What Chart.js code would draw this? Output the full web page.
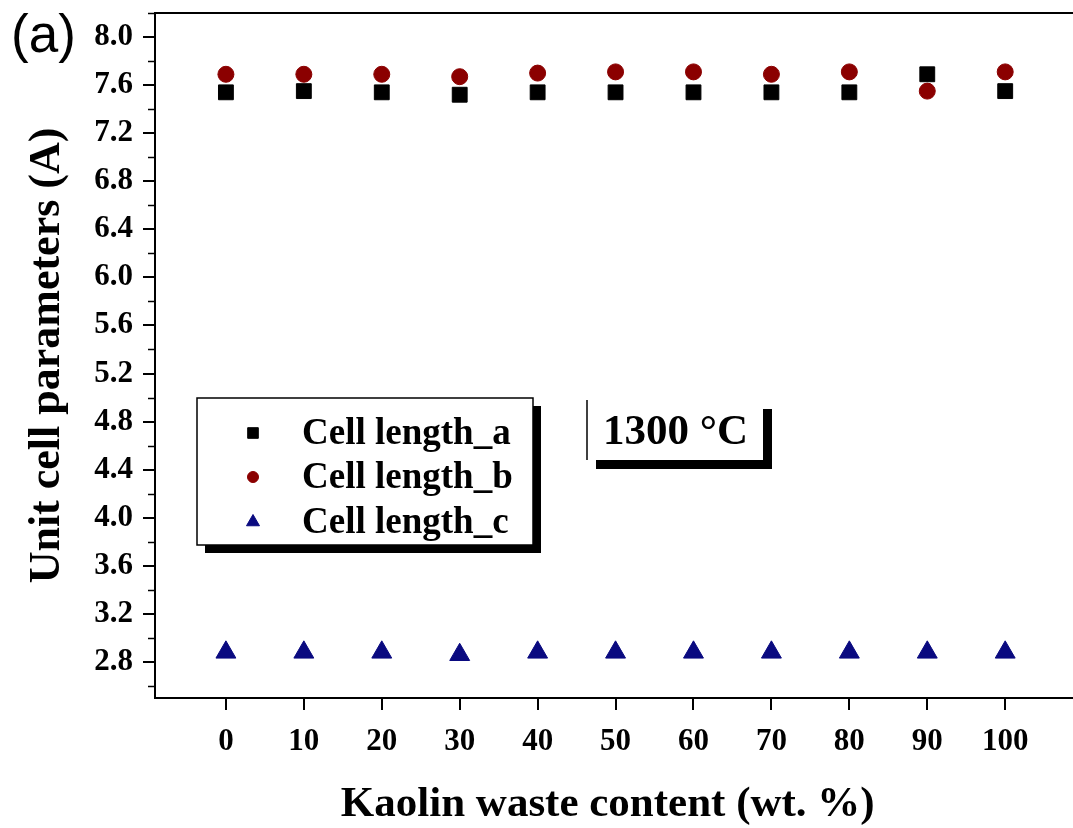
<!DOCTYPE html>
<html>
<head>
<meta charset="utf-8">
<script src="https://cdn.jsdelivr.net/npm/chart.js@4.4.1/dist/chart.umd.min.js"></script>
<style>
  html, body { margin: 0; padding: 0; background: #ffffff; overflow: hidden; }
  #wrap { width: 1073px; height: 828px; overflow: hidden; }
  #c { display: block; }
</style>
</head>
<body>
<div id="wrap"><canvas id="c" width="1073" height="828"></canvas></div>
<script>
// ---- data ----
const categories = [0, 10, 20, 30, 40, 50, 60, 70, 80, 90, 100];
const cellLengthA = [7.54, 7.55, 7.54, 7.52, 7.54, 7.54, 7.54, 7.54, 7.54, 7.69, 7.55];
const cellLengthB = [7.69, 7.69, 7.69, 7.67, 7.70, 7.71, 7.71, 7.69, 7.71, 7.55, 7.71];
const cellLengthC = [2.88, 2.88, 2.88, 2.86, 2.88, 2.88, 2.88, 2.88, 2.88, 2.88, 2.88];
const seriesLabels = ['Cell length_a', 'Cell length_b', 'Cell length_c'];
const xTickValues = [0, 10, 20, 30, 40, 50, 60, 70, 80, 90, 100];
const yMajorTicks = [2.8, 3.2, 3.6, 4.0, 4.4, 4.8, 5.2, 5.6, 6.0, 6.4, 6.8, 7.2, 7.6, 8.0];
const yMinorTicks = [2.6, 3.0, 3.4, 3.8, 4.2, 4.6, 5.0, 5.4, 5.8, 6.2, 6.6, 7.0, 7.4, 7.8, 8.2];
const xTitle = 'Kaolin waste content (wt. %)';
const yTitle = 'Unit cell parameters (A)';
const panelLabel = '(a)';
const tempLabel = '1300 \u00B0C';
const xRange = [-9.1, 108.7];
const yRange = [2.5, 8.2];

const SERIF = '"Liberation Serif", "Times New Roman", serif';
const SANS = '"Liberation Sans", Arial, sans-serif';

function toPoints(vals) { return categories.map((x, i) => ({ x: x, y: vals[i] })); }

const allYTicks = yMajorTicks.concat(yMinorTicks).sort((a, b) => a - b);

const decorPlugin = {
  id: 'decor',
  afterDraw(chart) {
    const ctx = chart.ctx;
    const area = chart.chartArea;
    const yScale = chart.scales.y;
    const W = chart.width;
    ctx.save();
    // top frame line and bottom axis continued to the edge of the figure
    ctx.strokeStyle = '#000';
    ctx.lineWidth = 2;
    ctx.beginPath();
    ctx.moveTo(area.left - 1, area.top);
    ctx.lineTo(W, area.top);
    ctx.moveTo(area.right - 1, area.bottom);
    ctx.lineTo(W, area.bottom);
    ctx.stroke();

    // minor y ticks (shorter)
    ctx.lineWidth = 1.5;
    yMinorTicks.forEach(v => {
      const py = Math.round(yScale.getPixelForValue(v)) + 0.5;
      ctx.beginPath();
      ctx.moveTo(area.left - 7, py);
      ctx.lineTo(area.left, py);
      ctx.stroke();
    });

    // panel label
    ctx.fillStyle = '#000';
    ctx.font = '53px ' + SANS;
    ctx.textAlign = 'left';
    ctx.textBaseline = 'middle';
    ctx.fillText(panelLabel, 11, 37);

    // legend box
    const lx = 197, ly = 398, lw = 336, lh = 147;
    ctx.fillStyle = '#000';
    ctx.fillRect(lx + 8, ly + 8, lw, lh);
    ctx.fillStyle = '#fff';
    ctx.fillRect(lx, ly, lw, lh);
    ctx.strokeStyle = '#000';
    ctx.lineWidth = 1.5;
    ctx.strokeRect(lx, ly, lw, lh);
    const rows = [433, 477, 522];
    const legRadius = { rect: 7.5, circle: 5.5, triangle: 7.5 };
    chart.data.datasets.forEach((ds, i) => {
      ctx.fillStyle = ds.backgroundColor;
      ctx.strokeStyle = ds.borderColor;
      ctx.lineWidth = 1;
      Chart.helpers.drawPoint(ctx, {
        pointStyle: ds.pointStyle,
        radius: legRadius[ds.pointStyle],
        rotation: 0,
        borderWidth: 1
      }, 253, rows[i]);
      ctx.fillStyle = '#000';
      ctx.font = 'bold 37px ' + SERIF;
      ctx.textAlign = 'left';
      ctx.textBaseline = 'middle';
      ctx.fillText(ds.label, 302, rows[i] + 1);
    });

    // temperature box
    const bx = 587, by = 400, bw = 176, bh = 60;
    ctx.fillStyle = '#000';
    ctx.fillRect(bx + 9, by + 9, bw, bh);
    ctx.fillStyle = '#fff';
    ctx.fillRect(bx, by, bw, bh);
    ctx.strokeStyle = '#000';
    ctx.lineWidth = 1.5;
    ctx.beginPath();
    ctx.moveTo(bx, by);
    ctx.lineTo(bx, by + bh);
    ctx.stroke();
    ctx.fillStyle = '#000';
    ctx.font = 'bold 43px ' + SERIF;
    ctx.textAlign = 'left';
    ctx.textBaseline = 'middle';
    ctx.fillText(tempLabel, 603, 433);
    ctx.restore();
  }
};

const chart = new Chart(document.getElementById('c'), {
  type: 'scatter',
  data: {
    datasets: [
      { label: seriesLabels[0], data: toPoints(cellLengthA), pointStyle: 'rect', pointRadius: 10.5,
        backgroundColor: '#000000', borderColor: '#000000', borderWidth: 1, showLine: false },
      { label: seriesLabels[1], data: toPoints(cellLengthB), pointStyle: 'circle', pointRadius: 8,
        backgroundColor: '#8b0000', borderColor: '#8b0000', borderWidth: 1, showLine: false },
      { label: seriesLabels[2], data: toPoints(cellLengthC), pointStyle: 'triangle', pointRadius: 11.5,
        backgroundColor: '#0a0a80', borderColor: '#0a0a80', borderWidth: 1, showLine: false }
    ]
  },
  options: {
    responsive: false,
    animation: false,
    events: [],
    layout: { padding: { top: 13, right: 0, left: 0, bottom: 0 } },
    plugins: { legend: { display: false }, tooltip: { enabled: false } },
    scales: {
      x: {
        type: 'linear',
        min: xRange[0],
        max: xRange[1],
        afterBuildTicks(scale) { scale.ticks = xTickValues.map(v => ({ value: v })); },
        afterFit(scale) {
          scale.height = 130; scale.paddingLeft = 0; scale.paddingRight = 0;
          if (scale._margins) { scale._margins.right = 0; }
        },
        grid: { display: true, drawOnChartArea: false, drawTicks: true, tickLength: 12, color: '#000', lineWidth: 2 },
        border: { display: true, color: '#000', width: 2 },
        ticks: {
          autoSkip: false, maxRotation: 0, padding: 13, color: '#000',
          font: { family: SERIF, size: 31, weight: 'bold' },
          callback: (v) => String(v)
        },
        title: {
          display: true, text: xTitle, color: '#000',
          font: { family: SERIF, size: 43, weight: 'bold', lineHeight: 1.2 },
          padding: { top: 0, bottom: -3 }
        }
      },
      y: {
        type: 'linear',
        min: yRange[0],
        max: yRange[1],
        afterBuildTicks(scale) { scale.ticks = allYTicks.map(v => ({ value: v })); },
        afterFit(scale) { scale.width = 155; scale.paddingTop = 0; scale.paddingBottom = 0; },
        grid: {
          display: true, drawOnChartArea: false, drawTicks: true, tickLength: 12, lineWidth: 2,
          tickColor: (ctx) => (ctx.tick && yMajorTicks.some(m => Math.abs(m - ctx.tick.value) < 1e-6)) ? '#000' : 'rgba(0,0,0,0)'
        },
        border: { display: true, color: '#000', width: 2 },
        ticks: {
          autoSkip: false, padding: 10, color: '#000',
          font: { family: SERIF, size: 31, weight: 'bold' },
          callback: (v) => yMajorTicks.some(m => Math.abs(m - v) < 1e-6) ? Number(v).toFixed(1) : ''
        },
        title: {
          display: true, text: yTitle, color: '#000',
          font: { family: SERIF, size: 44, weight: 'bold', lineHeight: 1.2 },
          padding: { top: 21, bottom: 0 }
        }
      }
    }
  },
  plugins: [decorPlugin]
});

// If the library kept a right margin, stretch the x range so the plot still
// reaches the figure edge with the same scale (value per pixel).
(function fixRightEdge() {
  const area = chart.chartArea;
  const W = chart.width;
  if (area.right < W - 0.5) {
    const perPx = (xRange[1] - xRange[0]) / (W - area.left);
    chart.options.scales.x.max = xRange[0] + perPx * (area.right - area.left);
    chart.update('none');
  }
})();
</script>
</body>
</html>
